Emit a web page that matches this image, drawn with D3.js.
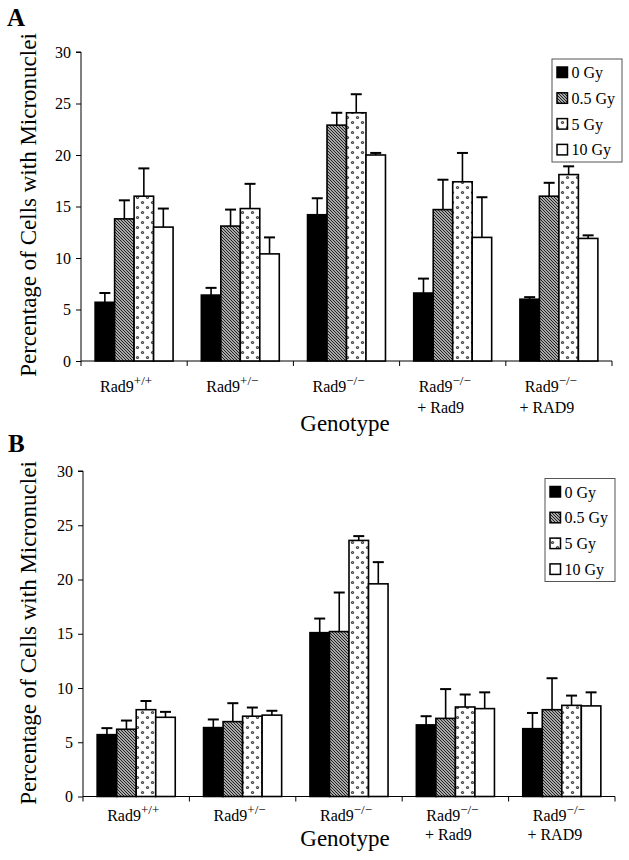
<!DOCTYPE html>
<html>
<head>
<meta charset="utf-8">
<script src="https://cdn.jsdelivr.net/npm/d3@7"></script>
<style>
  html, body { margin: 0; padding: 0; background: #fff; }
  svg { display: block; }
  text { font-family: "Liberation Serif", "Times New Roman", Times, serif; fill: #000; }
</style>
</head>
<body>
<svg id="chart" width="629" height="860"></svg>
<script>
// ---------- data ----------
const genotypes = ["Rad9+/+", "Rad9+/−", "Rad9−/−", "Rad9−/− + Rad9", "Rad9−/− + RAD9"];
const labelMain = ["Rad9", "Rad9", "Rad9", "Rad9", "Rad9"];
const labelSup = ["+/+", "+/−", "−/−", "−/−", "−/−"];
const labelLine2 = ["", "", "", "+ Rad9", "+ RAD9"];
const doses = ["0 Gy", "0.5 Gy", "5 Gy", "10 Gy"];
const yTicks = [0, 5, 10, 15, 20, 25, 30];

// Panel A values (%)
const a0Gy   = [5.7, 6.4, 14.2, 6.6, 6.0];
const a05Gy  = [13.8, 13.1, 22.9, 14.7, 16.0];
const a5Gy   = [16.0, 14.8, 24.1, 17.4, 18.1];
const a10Gy  = [13.0, 10.4, 20.0, 12.0, 11.9];
// Panel A error (+)
const a0GyErr  = [0.9, 0.7, 1.6, 1.4, 0.2];
const a05GyErr = [1.8, 1.6, 1.2, 2.9, 1.3];
const a5GyErr  = [2.7, 2.4, 1.8, 2.8, 0.8];
const a10GyErr = [1.8, 1.6, 0.2, 3.9, 0.3];

// Panel B values (%)
const b0Gy   = [5.7, 6.35, 15.1, 6.6, 6.25];
const b05Gy  = [6.2, 6.9, 15.2, 7.2, 8.0];
const b5Gy   = [8.0, 7.4, 23.6, 8.25, 8.4];
const b10Gy  = [7.3, 7.5, 19.6, 8.1, 8.35];
// Panel B error (+)
const b0GyErr  = [0.6, 0.75, 1.3, 0.8, 1.45];
const b05GyErr = [0.8, 1.7, 3.6, 2.7, 2.9];
const b5GyErr  = [0.8, 0.8, 0.4, 1.15, 0.9];
const b10GyErr = [0.5, 0.4, 2.0, 1.5, 1.25];

// ---------- drawing ----------
const svg = d3.select("#chart");
const defs = svg.append("defs");

// fine pixel-aligned diagonal hatch (0.5 Gy)
const hatch = defs.append("pattern")
  .attr("id", "hatch").attr("patternUnits", "userSpaceOnUse")
  .attr("width", 3).attr("height", 3);
hatch.append("rect").attr("width", 3).attr("height", 3).attr("fill", "#a8a8a8");
[0, 1, 2].forEach(k => {
  hatch.append("rect").attr("x", k).attr("y", k).attr("width", 1).attr("height", 1)
    .attr("fill", "#222").attr("shape-rendering", "crispEdges");
});

// dotted pattern (5 Gy)
const dots = defs.append("pattern")
  .attr("id", "dots").attr("patternUnits", "userSpaceOnUse")
  .attr("width", 10).attr("height", 10);
dots.append("rect").attr("width", 10).attr("height", 10).attr("fill", "#fff");
[[2.5, 2.5], [7.5, 7.5]].forEach(([cx, cy]) => {
  dots.append("circle").attr("cx", cx).attr("cy", cy).attr("r", 1.6).attr("fill", "#444");
  dots.append("circle").attr("cx", cx).attr("cy", cy).attr("r", 0.55).attr("fill", "#aaa");
});

const fills = ["#000", "url(#hatch)", "url(#dots)", "#fff"];
const legendFills = ["#000", "url(#hatch)", "url(#dots)", "#fff"];

function drawPanel(cfg) {
  const g = svg.append("g");
  const x0 = d3.scaleBand().domain(genotypes).range([cfg.left, cfg.right]).padding(0);
  const bw = x0.bandwidth();
  const x1 = d3.scaleBand().domain(doses).range([bw * 0.133, bw * 0.867]).padding(0);
  const y = d3.scaleLinear().domain([0, 30]).range([cfg.y0, cfg.y30]);

  // panel letter
  g.append("text").attr("x", cfg.letterX).attr("y", cfg.letterY)
    .attr("font-size", 25).attr("font-weight", "bold").text(cfg.letter);

  // y axis
  const yAxis = d3.axisLeft(y).tickValues(yTicks).tickSize(5).tickPadding(5);
  const ya = g.append("g").attr("transform", `translate(${cfg.left},0)`).call(yAxis);
  ya.select(".domain").attr("d", `M-5,${y(30)}H0V${y(0)}`).attr("stroke", "#000").attr("stroke-width", 1);
  ya.selectAll(".tick text").attr("font-size", 16)
    .attr("font-family", "\"Liberation Serif\", \"Times New Roman\", serif");

  // x axis with ticks at band boundaries
  const xa = g.append("g");
  xa.append("line").attr("x1", cfg.left).attr("x2", cfg.right)
    .attr("y1", y(0)).attr("y2", y(0)).attr("stroke", "#000").attr("stroke-width", 1);
  const bounds = genotypes.map(d => x0(d)).concat([x0(genotypes[genotypes.length - 1]) + bw]);
  xa.selectAll("line.tk").data(bounds).join("line").attr("class", "tk")
    .attr("x1", d => d).attr("x2", d => d)
    .attr("y1", y(0)).attr("y2", y(0) + 5).attr("stroke", "#000").attr("stroke-width", 1);

  // bars
  const series = cfg.values.map((vals, si) => vals.map((v, gi) => ({
    g: genotypes[gi], dose: doses[si], v: v, e: cfg.errors[si][gi], si: si
  })));
  const flat = series.flat();

  const bars = g.append("g");
  bars.selectAll("rect").data(flat).join("rect")
    .attr("x", d => x0(d.g) + x1(d.dose))
    .attr("y", d => y(d.v))
    .attr("width", x1.bandwidth())
    .attr("height", d => y(0) - y(d.v))
    .attr("fill", d => fills[d.si])
    .attr("stroke", "#000").attr("stroke-width", 1.6);

  const eb = g.append("g").attr("stroke", "#000").attr("stroke-width", 1.6);
  flat.forEach(d => {
    const cx = x0(d.g) + x1(d.dose) + x1.bandwidth() / 2;
    eb.append("line").attr("x1", cx).attr("x2", cx)
      .attr("y1", y(d.v)).attr("y2", y(d.v + d.e));
    eb.append("line").attr("x1", cx - 5.5).attr("x2", cx + 5.5)
      .attr("y1", y(d.v + d.e)).attr("y2", y(d.v + d.e)).attr("stroke-width", 2);
  });

  // category labels
  genotypes.forEach((gname, i) => {
    const cx = x0(gname) + bw / 2 + cfg.labelShift;
    const t = g.append("text").attr("x", cx).attr("y", cfg.labelY1)
      .attr("text-anchor", "middle").attr("font-size", 16);
    t.append("tspan").text(labelMain[i]);
    t.append("tspan").attr("font-size", 13).attr("dy", -7).text(labelSup[i]);
    if (labelLine2[i]) {
      g.append("text").attr("x", cx - 4).attr("y", cfg.labelY2)
        .attr("text-anchor", "middle").attr("font-size", 16).text(labelLine2[i]);
    }
  });

  // axis titles
  g.append("text").attr("x", 345).attr("y", cfg.genotypeY)
    .attr("text-anchor", "middle").attr("font-size", 23).text("Genotype");
  g.append("text")
    .attr("transform", `translate(36,${cfg.titleCY}) rotate(-90)`)
    .attr("text-anchor", "middle").attr("font-size", 23)
    .text("Percentage of Cells with Micronuclei");

  // legend
  const lg = g.append("g");
  lg.append("rect").attr("x", cfg.legX).attr("y", cfg.legY)
    .attr("width", 70).attr("height", 103)
    .attr("fill", "#fff").attr("stroke", "#555").attr("stroke-width", 1);
  doses.forEach((dname, i) => {
    const cy = cfg.legY + 13.5 + i * 25.8;
    lg.append("rect").attr("x", cfg.legX + 5).attr("y", cy - 5.5)
      .attr("width", 10.5).attr("height", 10.5)
      .attr("fill", legendFills[i]).attr("stroke", "#000").attr("stroke-width", 1.5);
    lg.append("text").attr("x", cfg.legX + 19.5).attr("y", cy + 5.5)
      .attr("font-size", 16).text(dname);
  });
}

drawPanel({
  letter: "A", letterX: 7, letterY: 26,
  left: 81, right: 612, y0: 361, y30: 52,
  values: [a0Gy, a05Gy, a5Gy, a10Gy],
  errors: [a0GyErr, a05GyErr, a5GyErr, a10GyErr],
  labelY1: 392, labelY2: 413, labelShift: -8, genotypeY: 431, titleCY: 205,
  legX: 552, legY: 59
});

drawPanel({
  letter: "B", letterX: 8, letterY: 452,
  left: 83, right: 615, y0: 796.5, y30: 471,
  values: [b0Gy, b05Gy, b5Gy, b10Gy],
  errors: [b0GyErr, b05GyErr, b5GyErr, b10GyErr],
  labelY1: 821, labelY2: 840, labelShift: -3, genotypeY: 846, titleCY: 633,
  legX: 545, legY: 478.5
});
</script>
</body>
</html>
